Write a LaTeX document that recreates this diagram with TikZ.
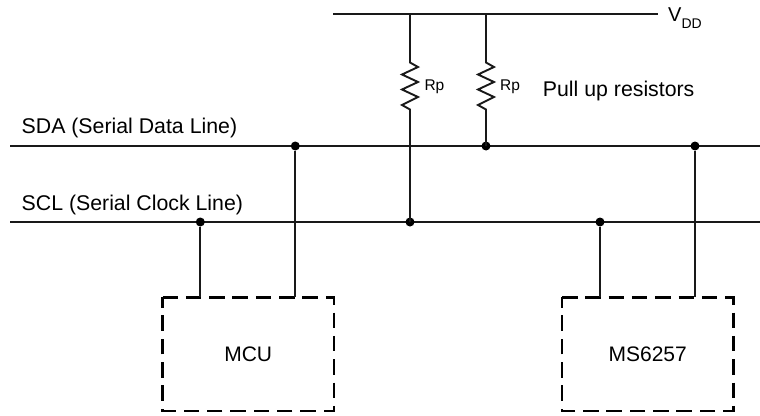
\documentclass[tikz,border=0pt]{standalone}
\usepackage{fontspec}
\setmainfont{Liberation Sans}
\begin{document}
\begin{tikzpicture}[x=1pt,y=-1pt,
  wire/.style={line width=1.9pt,black!90},
  dot/.style={circle,fill=black,inner sep=0pt,minimum size=9pt},
  blk/.style={minimum width=171pt,minimum height=113.3pt,inner sep=0pt,font=\fontsize{21}{25}\selectfont},
  dashline/.style={draw,line width=2.8pt,dash pattern=on 15.5pt off 7.83pt,line join=miter},
  lab/.style={anchor=base west,inner sep=0pt,font=\fontsize{21.3}{25}\selectfont},
  rlab/.style={anchor=base west,inner sep=0pt,font=\fontsize{15.5}{18}\selectfont}]
\useasboundingbox (0,0) rectangle (760,415);
% boxes
\node[blk] (mcu) at (248.2,354.2) {MCU};
\node[blk] (ms) at (647.7,354.2) {MS6257};
\foreach \n in {mcu,ms}{
  \draw[dashline] (\n.north west) -- (\n.north east) -- (\n.south east) -- (\n.south west) -- cycle;
}
% rails
\coordinate (vl) at (333,14); \coordinate (vr) at (658,14);
\coordinate (sdal) at (10,146); \coordinate (sdar) at (760,146);
\coordinate (scll) at (10,222); \coordinate (sclr) at (760,222);
\draw[wire] (vl) -- (vr);
\draw[wire] (sdal) -- (sdar);
\draw[wire] (scll) -- (sclr);
% junctions
\node[dot] (j1) at (200.3,222) {};
\node[dot] (j2) at (295.3,146) {};
\node[dot] (j3) at (410,222) {};
\node[dot] (j4) at (486,146) {};
\node[dot] (j5) at (600,222) {};
\node[dot] (j6) at (695,146) {};
% tops
\coordinate (t1) at (410,14); \coordinate (t2) at (486,14);
\draw[wire] (j1) -- (j1 |- mcu.north);
\draw[wire] (j2) -- (j2 |- mcu.north);
\draw[wire] (j5) -- (j5 |- ms.north);
\draw[wire] (j6) -- (j6 |- ms.north);
% resistors
\foreach \a/\b in {t1/j3,t2/j4}{
  \draw[wire,line join=miter] (\a) -- ++(0,48.5) -- ++(8,4.5) -- ++(-16,7.5) -- ++(16,7.5) -- ++(-16,7.5) -- ++(16,7.5) -- ++(-16,8) -- ++(8,4.5) -- (\a |- \b);
}
% labels
\node[rlab] (r1) at (424.3,90.7) {Rp};
\node[rlab] (r2) at (500,90.7) {Rp};
\node[lab] (pull) at (542.7,96) {Pull up resistors};
\node[lab] (sda) at (21.5,133.3) {SDA (Serial Data Line)};
\node[lab] (scl) at (21.5,210) {SCL (Serial Clock Line)};
\node[anchor=base west,inner sep=0pt,font=\fontsize{20}{24}\selectfont] (vdd) at (668,21) {V\raisebox{-7pt}{\fontsize{14}{16}\selectfont DD}};
\end{tikzpicture}
\end{document}
